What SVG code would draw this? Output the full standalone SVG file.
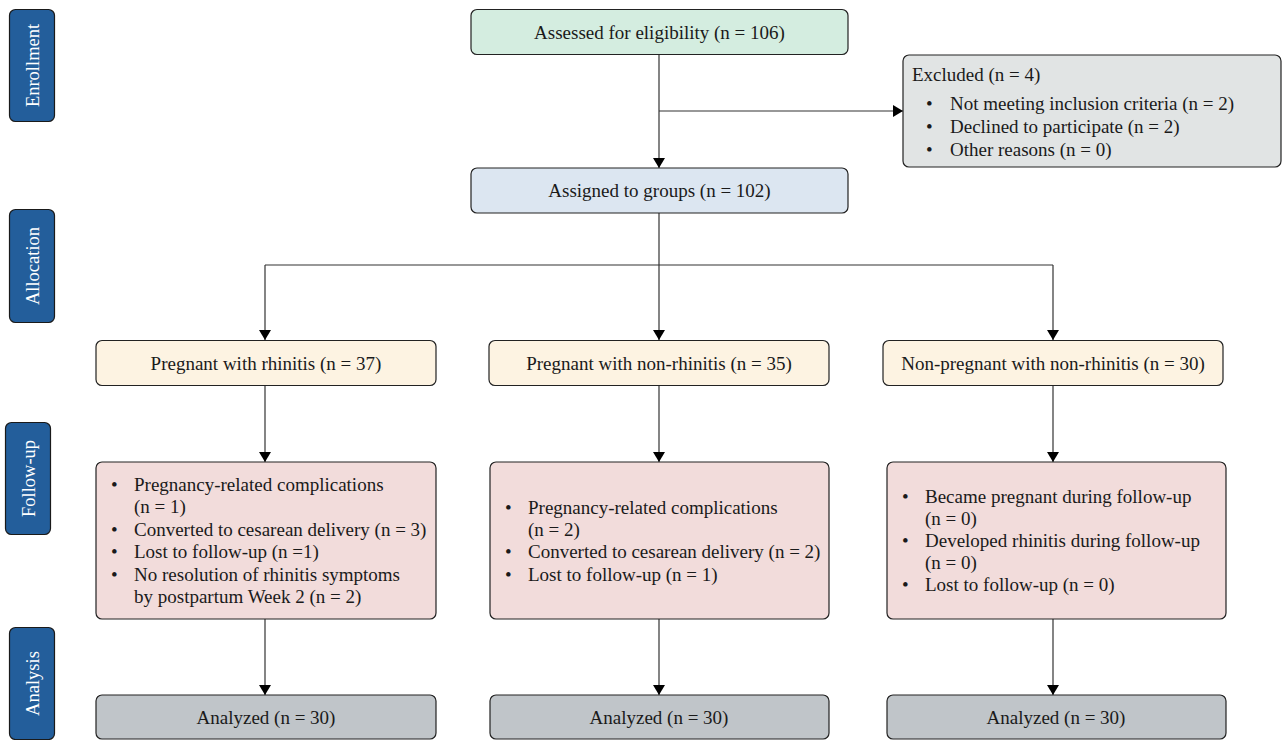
<svg xmlns="http://www.w3.org/2000/svg" width="1282" height="740" viewBox="0 0 1282 740">
<style>
  .box { stroke: #222; stroke-width: 1.2; }
  .t { font-family: "Liberation Serif", "DejaVu Serif", serif; font-size: 19px; fill: #1a1a1a; }
  .c { text-anchor: middle; }
  .side { fill: #235e9b; stroke: #1a1a1a; stroke-width: 1.2; }
  .st { font-family: "Liberation Serif", "DejaVu Serif", serif; font-size: 18.5px; fill: #ffffff; text-anchor: middle; }
  .ln { stroke: #333; stroke-width: 1.2; fill: none; }
  .green { fill: #d4ede0; }
  .blue { fill: #dce6f1; }
  .grey { fill: #e1e4e4; }
  .cream { fill: #fdf3e2; }
  .pink { fill: #f2dcdb; }
  .ana { fill: #c0c5c9; }
</style>
<defs>
  <marker id="ah" markerWidth="10" markerHeight="12" refX="10" refY="6" orient="auto" markerUnits="userSpaceOnUse">
    <path d="M0,0 L10,6 L0,12 Z" fill="#000"/>
  </marker>
</defs>
<rect width="1282" height="740" fill="#ffffff"/>

<g id="side-enrollment">
  <rect class="side" x="9.5" y="9.5" width="45" height="112" rx="6"/>
  <text class="st" transform="translate(38.5,65.5) rotate(-90)">Enrollment</text>
</g>
<g id="side-allocation">
  <rect class="side" x="9.5" y="209.5" width="45" height="113" rx="6"/>
  <text class="st" transform="translate(38.5,266) rotate(-90)">Allocation</text>
</g>
<g id="side-followup">
  <rect class="side" x="5.5" y="422.5" width="45" height="112" rx="6"/>
  <text class="st" transform="translate(34.5,478.5) rotate(-90)">Follow-up</text>
</g>
<g id="side-analysis">
  <rect class="side" x="9.5" y="627.5" width="45" height="112" rx="6"/>
  <text class="st" transform="translate(38.5,683.5) rotate(-90)">Analysis</text>
</g>

<g id="connectors">
  <line class="ln" x1="659" y1="54" x2="659" y2="168" marker-end="url(#ah)"/>
  <line class="ln" x1="659" y1="111" x2="903" y2="111" marker-end="url(#ah)"/>
  <line class="ln" x1="659" y1="213" x2="659" y2="340" marker-end="url(#ah)"/>
  <polyline class="ln" points="265,265 1053,265"/>
  <line class="ln" x1="265" y1="265" x2="265" y2="340" marker-end="url(#ah)"/>
  <line class="ln" x1="1053" y1="265" x2="1053" y2="340" marker-end="url(#ah)"/>
  <line class="ln" x1="265" y1="385" x2="265" y2="462" marker-end="url(#ah)"/>
  <line class="ln" x1="659" y1="385" x2="659" y2="462" marker-end="url(#ah)"/>
  <line class="ln" x1="1053" y1="385" x2="1053" y2="462" marker-end="url(#ah)"/>
  <line class="ln" x1="265" y1="619" x2="265" y2="695" marker-end="url(#ah)"/>
  <line class="ln" x1="659" y1="619" x2="659" y2="695" marker-end="url(#ah)"/>
  <line class="ln" x1="1053" y1="619" x2="1053" y2="695" marker-end="url(#ah)"/>
</g>

<g id="assessed">
  <rect class="box green" x="471" y="9.5" width="377" height="45" rx="6"/>
  <text class="t c" x="659.5" y="38.5">Assessed for eligibility (n = 106)</text>
</g>
<g id="excluded">
  <rect class="box grey" x="903" y="55" width="378" height="112" rx="6"/>
  <text class="t" x="912" y="81">Excluded (n = 4)</text>
  <text class="t" x="926" y="110">•</text><text class="t" x="950" y="110">Not meeting inclusion criteria (n = 2)</text>
  <text class="t" x="926" y="133">•</text><text class="t" x="950" y="133">Declined to participate (n = 2)</text>
  <text class="t" x="926" y="156">•</text><text class="t" x="950" y="156">Other reasons (n = 0)</text>
</g>
<g id="assigned">
  <rect class="box blue" x="471" y="168" width="377" height="45" rx="6"/>
  <text class="t c" x="659.5" y="197">Assigned to groups (n = 102)</text>
</g>

<g id="group1">
  <rect class="box cream" x="96" y="340.5" width="340" height="45" rx="6"/>
  <text class="t c" x="266" y="369.5">Pregnant with rhinitis (n = 37)</text>
</g>
<g id="group2">
  <rect class="box cream" x="489" y="340.5" width="340" height="45" rx="6"/>
  <text class="t c" x="659" y="369.5">Pregnant with non-rhinitis (n = 35)</text>
</g>
<g id="group3">
  <rect class="box cream" x="883" y="340.5" width="340" height="45" rx="6"/>
  <text class="t c" x="1053" y="369.5">Non-pregnant with non-rhinitis (n = 30)</text>
</g>

<g id="followup1">
  <rect class="box pink" x="96" y="462" width="340" height="157" rx="6"/>
  <text class="t" x="111" y="491">•</text><text class="t" x="134" y="491">Pregnancy-related complications</text>
  <text class="t" x="134" y="513">(n = 1)</text>
  <text class="t" x="111" y="536">•</text><text class="t" x="134" y="536">Converted to cesarean delivery (n = 3)</text>
  <text class="t" x="111" y="558">•</text><text class="t" x="134" y="558">Lost to follow-up (n =1)</text>
  <text class="t" x="111" y="581">•</text><text class="t" x="134" y="581">No resolution of rhinitis symptoms</text>
  <text class="t" x="134" y="603">by postpartum Week 2 (n = 2)</text>
</g>
<g id="followup2">
  <rect class="box pink" x="490" y="462" width="339" height="157" rx="6"/>
  <text class="t" x="505" y="514">•</text><text class="t" x="528" y="514">Pregnancy-related complications</text>
  <text class="t" x="528" y="536">(n = 2)</text>
  <text class="t" x="505" y="558">•</text><text class="t" x="528" y="558">Converted to cesarean delivery (n = 2)</text>
  <text class="t" x="505" y="581">•</text><text class="t" x="528" y="581">Lost to follow-up (n = 1)</text>
</g>
<g id="followup3">
  <rect class="box pink" x="887" y="462" width="339" height="157" rx="6"/>
  <text class="t" x="902" y="503">•</text><text class="t" x="925" y="503">Became pregnant during follow-up</text>
  <text class="t" x="925" y="525">(n = 0)</text>
  <text class="t" x="902" y="547">•</text><text class="t" x="925" y="547">Developed rhinitis during follow-up</text>
  <text class="t" x="925" y="569">(n = 0)</text>
  <text class="t" x="902" y="591">•</text><text class="t" x="925" y="591">Lost to follow-up (n = 0)</text>
</g>

<g id="analyzed1">
  <rect class="box ana" x="96" y="695" width="340" height="44" rx="6"/>
  <text class="t c" x="266" y="724">Analyzed (n = 30)</text>
</g>
<g id="analyzed2">
  <rect class="box ana" x="490" y="695" width="339" height="44" rx="6"/>
  <text class="t c" x="659" y="724">Analyzed (n = 30)</text>
</g>
<g id="analyzed3">
  <rect class="box ana" x="887" y="695" width="339" height="44" rx="6"/>
  <text class="t c" x="1056" y="724">Analyzed (n = 30)</text>
</g>
</svg>
